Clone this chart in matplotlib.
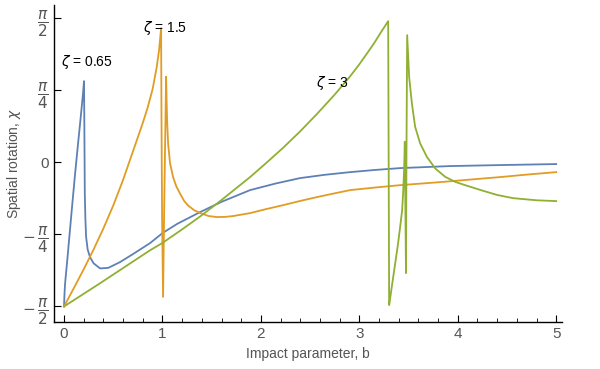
import numpy as np
import matplotlib.pyplot as plt
from matplotlib.ticker import MultipleLocator

# impact parameter b and spatial rotation chi
b_065 = [0, 0.004, 0.01, 0.02, 0.03, 0.05, 0.08, 0.11, 0.14, 0.17, 0.19, 0.203,
         0.207, 0.211, 0.217, 0.224, 0.24, 0.264, 0.30, 0.366, 0.45, 0.569, 0.70,
         0.874, 1.0, 1.15, 1.382, 1.6, 1.890, 2.15, 2.398, 2.65, 2.907, 3.15, 3.415,
         3.92, 4.43, 5.0]
chi_065 = [-1.571, -1.45, -1.33, -1.21, -1.10, -0.86, -0.50, -0.15, 0.18, 0.50, 0.72, 0.886,
           0.30, -0.34, -0.62, -0.81, -0.95, -1.033, -1.10, -1.156, -1.15, -1.087, -1.00,
           -0.880, -0.771, -0.67, -0.542, -0.43, -0.302, -0.23, -0.171, -0.135, -0.106, -0.083, -0.062,
           -0.040, -0.029, -0.018]

b_15 = [0, 0.1, 0.2, 0.3, 0.4, 0.5, 0.6, 0.7, 0.8, 0.85, 0.9, 0.94, 0.965, 0.986,
        0.990, 0.996, 1.006, 1.02, 1.037, 1.042, 1.047, 1.057, 1.077, 1.108, 1.14,
        1.179, 1.22, 1.26, 1.32, 1.382, 1.47, 1.555, 1.64, 1.717, 1.890, 2.05, 2.226,
        2.4, 2.571, 2.75, 2.907, 3.15, 3.415, 3.821, 4.15, 4.43, 4.7, 5.0]
chi_15 = [-1.571, -1.37, -1.165, -0.95, -0.72, -0.47, -0.19, 0.12, 0.43, 0.60, 0.80, 1.03, 1.22, 1.465,
          0.5, -0.6, -1.467, -0.3, 0.935, 0.68, 0.46, 0.21, -0.01, -0.16, -0.26,
          -0.34, -0.42, -0.47, -0.52, -0.552, -0.585, -0.596, -0.594, -0.585, -0.553, -0.51, -0.466,
          -0.42, -0.378, -0.337, -0.302, -0.275, -0.248, -0.215, -0.185, -0.160, -0.133, -0.106]

b_3 = [0, 0.366, 0.569, 0.874, 0.996, 1.2, 1.382, 1.6, 1.890, 2.05, 2.226, 2.4,
       2.571, 2.75, 2.907, 3.0, 3.079, 3.15, 3.22, 3.293,
       3.303, 3.32, 3.344, 3.37, 3.394, 3.415, 3.435, 3.445, 3.455, 3.462, 3.468, 3.474,
       3.479, 3.486, 3.506, 3.534, 3.567, 3.618, 3.686, 3.770, 3.872, 3.974, 4.075,
       4.228, 4.4, 4.563, 4.8, 5.0]
chi_3 = [-1.571, -1.318, -1.174, -0.958, -0.881, -0.73, -0.59, -0.41, -0.16, -0.01, 0.16, 0.34,
         0.53, 0.74, 0.94, 1.07, 1.19, 1.30, 1.42, 1.541,
         -1.556, -1.43, -1.251, -1.06, -0.880, -0.70, -0.521, -0.33, -0.084, 0.225, -0.52, -1.207,
         0.134, 1.388, 0.933, 0.643, 0.388, 0.207, 0.061, -0.065, -0.157, -0.212, -0.248,
         -0.30, -0.355, -0.39, -0.413, -0.422]

labels = ['$\\zeta$ = 0.65', '$\\zeta$ = 1.5', '$\\zeta$ = 3']
label_pos = [(0.23, 1.10), (1.03, 1.47), (2.73, 0.87)]

yticks = [-np.pi / 2, -np.pi / 4, 0, np.pi / 4, np.pi / 2]
yticklabels = [r'$-\,\dfrac{\pi}{2}$', r'$-\,\dfrac{\pi}{4}$', '0',
               r'$\dfrac{\pi}{4}$', r'$\dfrac{\pi}{2}$']

plt.rcParams['font.family'] = ['Liberation Sans', 'DejaVu Sans']
plt.rcParams['mathtext.fontset'] = 'dejavusans'

fig = plt.figure(figsize=(6, 3.69), dpi=100)
ax = fig.add_axes([0.09, 0.127, 0.847, 0.859])

ax.plot(b_065, chi_065, color='#5E81B5', lw=1.3)
ax.plot(b_15, chi_15, color='#E19C24', lw=1.3)
ax.plot(b_3, chi_3, color='#8FB032', lw=1.3)

for txt, (x, y) in zip(labels, label_pos):
    ax.text(x, y, txt, fontsize=10, ha='center', va='center', color='black')

ax.set_xlim(-0.102, 5.061)
ax.set_ylim(-1.742, 1.715)
ax.set_xticks([0, 1, 2, 3, 4, 5])
ax.xaxis.set_minor_locator(MultipleLocator(0.2))
ax.set_yticks(yticks)
ax.set_yticklabels(yticklabels)

for s in ['top', 'right']:
    ax.spines[s].set_visible(False)
for s in ['left', 'bottom']:
    ax.spines[s].set_linewidth(1.0)
ax.tick_params(axis='both', which='major', direction='in', length=5, width=0.8,
               labelcolor='#555555', labelsize=11)
ax.tick_params(axis='x', which='minor', direction='in', length=3, width=0.6)

ax.set_xlabel('Impact parameter, b', fontsize=10, color='#555555')
ax.set_ylabel('Spatial rotation, $\\chi$', fontsize=10, color='#555555')
ax.yaxis.set_label_coords(-0.061, 0.5)

plt.savefig('out.png', dpi=100)
